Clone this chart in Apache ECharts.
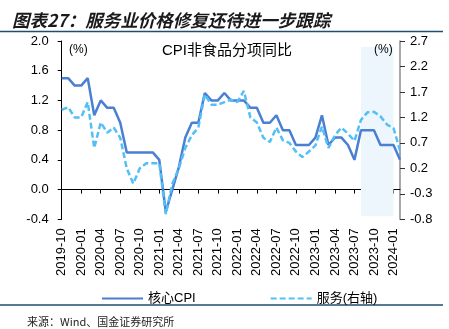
<!DOCTYPE html>
<html><head><meta charset="utf-8">
<script src="https://cdn.jsdelivr.net/npm/echarts@6/dist/echarts.min.js"></script>
<style>html,body{margin:0;padding:0;background:#fff}#c{width:449px;height:329px}</style>
</head><body><div id="c"></div>
<script>
// x-axis labels as printed on the chart
const months = [
  '2019-10','2019-11','2019-12','2020-01','2020-02','2020-03','2020-04','2020-05','2020-06',
  '2020-07','2020-08','2020-09','2020-10','2020-11','2020-12','2021-01','2021-02','2021-03',
  '2021-04','2021-05','2021-06','2021-07','2021-08','2021-09','2021-10','2021-11','2021-12',
  '2022-01','2022-02','2022-03','2022-04','2022-05','2022-06','2022-07','2022-08','2022-09',
  '2022-10','2022-11','2022-12','2023-01','2023-02','2023-03','2023-04','2023-05','2023-06',
  '2023-07','2023-08','2023-09','2023-10','2023-11','2023-12','2024-01','2024-02'
];
// 核心CPI (left axis, %)
const coreCPI = [
  1.5,1.5,1.4,1.4,1.5,1.0,1.2,1.1,1.1,0.9,0.5,0.5,0.5,0.5,0.5,0.4,
  -0.3,0.0,0.3,0.7,0.9,0.9,1.3,1.2,1.2,1.3,1.2,1.2,
  1.2,1.1,1.1,0.9,0.9,1.0,0.8,0.8,0.6,0.6,0.6,0.7,
  1.0,0.6,0.7,0.7,0.6,0.4,0.8,0.8,0.8,0.6,0.6,0.6,0.4
];
// 服务 (right axis, %)
const services = [
  1.35,1.4,1.2,1.2,1.5,0.6,1.1,0.9,1.0,0.8,0.2,-0.1,0.2,0.3,0.3,0.3,
  -0.7,-0.1,0.2,0.6,0.85,1.0,1.65,1.45,1.45,1.5,1.55,1.5,
  1.72,1.2,1.1,0.8,0.72,1.0,0.75,0.7,0.53,0.42,0.53,0.65,
  1.02,0.6,0.85,1.0,0.88,0.74,1.15,1.3,1.31,1.22,1.06,0.99,0.55
];
const leftTicks = [-0.4,0.0,0.4,0.8,1.2,1.6,2.0];
const rightTicks = [-0.8,-0.3,0.2,0.7,1.2,1.7,2.2,2.7];
const shadeStart = 46, shadeEnd = 51;

const chart = echarts.init(document.getElementById('c'), null, {renderer:'canvas'});
const txt = {fontFamily:'Liberation Sans, Noto Sans CJK SC', color:'#000'};
chart.setOption({
  animation:false,
  backgroundColor:'#fff',
  title:[
    {text:'图表27：服务业价格修复还待进一步跟踪', left:7, top:7,
     textStyle:{fontFamily:'Noto Sans CJK SC', fontSize:17.5, fontWeight:'bold', fontStyle:'italic', color:'#1a1a1a'}},
    {text:'CPI非食品分项同比', left:157, top:38,
     textStyle:Object.assign({}, txt, {fontSize:15, fontWeight:'normal'})},
    {text:'(%)', left:64, top:39, textStyle:Object.assign({}, txt, {fontSize:12, fontWeight:'normal'})},
    {text:'(%)', left:369, top:39, textStyle:Object.assign({}, txt, {fontSize:12, fontWeight:'normal'})},
    {text:'来源：Wind、国金证券研究所', left:22, top:311,
     textStyle:{fontFamily:'Noto Sans CJK SC', fontSize:11, fontWeight:'normal', color:'#222'}}
  ],
  graphic:[
    {type:'line', shape:{x1:0,y1:31.5,x2:443,y2:31.5}, style:{stroke:'#1f4e6e', lineWidth:1.5}},
    {type:'line', shape:{x1:0,y1:305,x2:443,y2:305}, style:{stroke:'#1f4e6e', lineWidth:1.5}}
  ],
  legend:{
    left:96, top:287, itemWidth:41, itemHeight:10, itemGap:74,
    itemStyle:{opacity:0},
    textStyle:Object.assign({}, txt, {fontSize:13}),
    data:['核心CPI','服务(右轴)']
  },
  grid:{left:61.7, right:49, top:41, bottom:109.7, containLabel:false},
  xAxis:[
    {type:'category', data:months, boundaryGap:false,
     axisLine:{onZero:true, onZeroAxisIndex:0, lineStyle:{color:'#000', width:1}},
     axisTick:{show:true, interval:2, length:4, lineStyle:{color:'#000'}},
     axisLabel:{show:false}, splitLine:{show:false}},
    {type:'category', data:months, boundaryGap:false, position:'bottom',
     axisLine:{show:false, onZero:false}, axisTick:{show:false},
     axisLabel:Object.assign({}, txt, {interval:2, rotate:90, fontSize:13, margin:9}),
     splitLine:{show:false}}
  ],
  yAxis:[
    {type:'value', min:-0.4, max:2.0, interval:0.4, position:'left',
     axisLine:{show:true, lineStyle:{color:'#000', width:1}},
     axisTick:{show:true, length:4, lineStyle:{color:'#000'}},
     axisLabel:Object.assign({}, txt, {fontSize:13, margin:13, formatter:v=>v.toFixed(1)}),
     splitLine:{show:false}},
    {type:'value', min:-0.8, max:2.7, interval:0.5, position:'right',
     axisLine:{show:true, lineStyle:{color:'#8c8c8c', width:1.5}},
     axisTick:{show:true, length:5, customValues:rightTicks, lineStyle:{color:'#333'}},
     axisLabel:Object.assign({}, txt, {fontSize:13, margin:10, customValues:rightTicks, formatter:v=>v.toFixed(1)}),
     splitLine:{show:false}}
  ],
  series:[
    {name:'核心CPI', type:'line', data:coreCPI, xAxisIndex:0, yAxisIndex:0,
     symbol:'none', showSymbol:false,
     itemStyle:{color:'#4a7fd1'}, lineStyle:{color:'#4a7fd1', width:2.5},
     markArea:{silent:true, itemStyle:{color:'#eef6fd'},
       data:[[{xAxis:shadeStart, yAxis:1.92},{xAxis:shadeEnd, yAxis:-0.36}]]},
     z:3},
    {name:'服务(右轴)', type:'line', data:services, xAxisIndex:0, yAxisIndex:1,
     symbol:'none', showSymbol:false,
     itemStyle:{color:'#52c0f7'}, lineStyle:{color:'#52c0f7', width:2.5, type:[6,3]},
     z:4}
  ]
});
</script></body></html>
